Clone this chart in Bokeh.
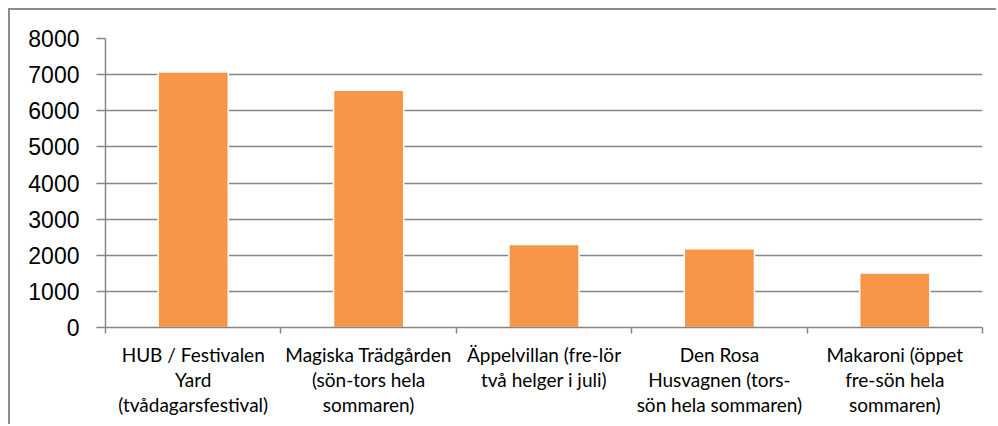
from bokeh.plotting import figure
from bokeh.models import Range1d, FixedTicker, ColumnDataSource
from bokeh.embed import file_html
from bokeh.resources import INLINE

categories = [
    "HUB / Festivalen\nYard\n(tvådagarsfestival)",
    "Magiska Trädgården\n(sön-tors hela\nsommaren)",
    "Äppelvillan (fre-lör\ntvå helger i juli)",
    "Den Rosa\nHusvagnen (tors-\nsön hela sommaren)",
    "Makaroni (öppet\nfre-sön hela\nsommaren)",
]
values = [7070, 6570, 2300, 2180, 1510]
y_ticks = [0, 1000, 2000, 3000, 4000, 5000, 6000, 7000, 8000]

n = len(categories)
xs = [i + 0.5 for i in range(n)]
src = ColumnDataSource(dict(x=xs, top=values))

p = figure(width=988, height=416, output_backend="svg", toolbar_location=None,
           x_range=Range1d(0, n), y_range=Range1d(0, 8000),
           min_border_left=95, min_border_right=16, min_border_top=28, min_border_bottom=99)
p.styles = {"margin-left": "8px", "margin-top": "8px",
            "border-top": "2px solid #8c8c8c", "border-left": "2px solid #8c8c8c"}
p.outline_line_color = None
p.background_fill_color = "white"
p.border_fill_color = "white"

p.vbar(x="x", top="top", bottom=0, width=0.4, source=src,
       fill_color="#F79646", line_color="white", line_width=1.5)

grid_col = "#868686"
p.xgrid.visible = False
p.ygrid.ticker = FixedTicker(ticks=y_ticks)
p.ygrid.grid_line_color = grid_col
p.ygrid.grid_line_width = 1.5

p.yaxis.ticker = FixedTicker(ticks=y_ticks)
p.yaxis.axis_line_color = grid_col
p.yaxis.axis_line_width = 1.5
p.yaxis.major_tick_line_color = grid_col
p.yaxis.major_tick_line_width = 1.5
p.yaxis.major_tick_out = 9
p.yaxis.major_tick_in = 0
p.yaxis.minor_tick_line_color = None
p.yaxis.major_label_text_font = "Liberation Sans"
p.yaxis.major_label_text_font_size = "23px"
p.yaxis.major_label_text_color = "black"
p.yaxis.major_label_standoff = 17

p.xaxis.ticker = FixedTicker(ticks=xs, minor_ticks=list(range(n + 1)))
p.xaxis.major_label_overrides = {x: c for x, c in zip(xs, categories)}
p.xaxis.axis_line_color = grid_col
p.xaxis.axis_line_width = 1.5
p.xaxis.major_tick_line_color = None
p.xaxis.major_tick_out = 6
p.xaxis.major_tick_in = 0
p.xaxis.minor_tick_line_color = grid_col
p.xaxis.minor_tick_line_width = 1.5
p.xaxis.minor_tick_out = 6
p.xaxis.minor_tick_in = 0
p.xaxis.major_label_text_font = "Lato"
p.xaxis.major_label_text_font_size = "19px"
p.xaxis.major_label_text_color = "black"
p.xaxis.major_label_text_line_height = 1.1
p.xaxis.major_label_standoff = 9
p.xaxis.major_label_orientation = "horizontal"

open("out.html", "w").write(file_html(p, INLINE))
